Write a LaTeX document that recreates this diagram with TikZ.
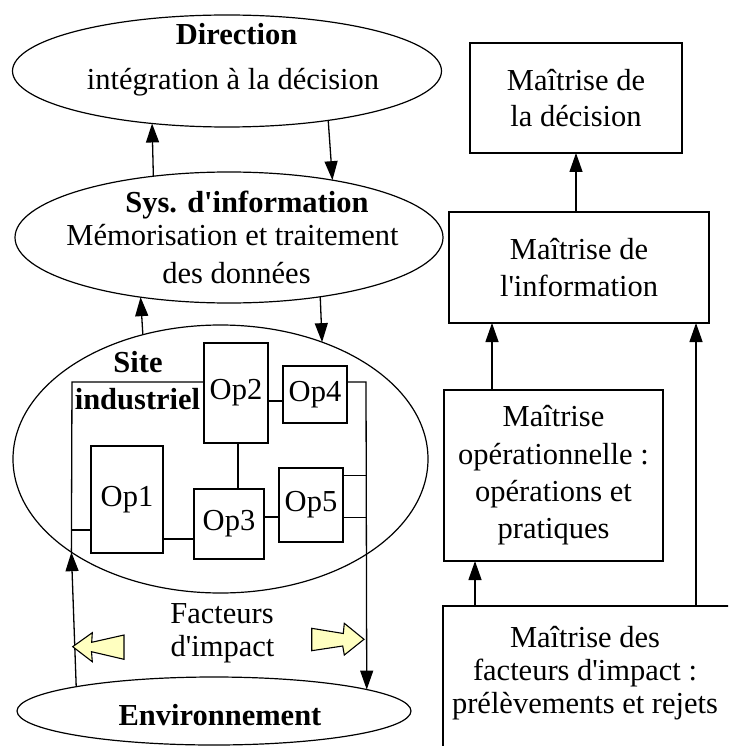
\documentclass[tikz,border=0pt]{standalone}
\usepackage{fontspec}
\setmainfont{Liberation Serif}[Ligatures=TeXOff]
\usetikzlibrary{arrows.meta,shapes.geometric}
\definecolor{pale}{RGB}{255,255,192}
\begin{document}
\begin{tikzpicture}[x=1pt,y=-1pt,
  every node/.style={font=\fontsize{30.5}{36}\selectfont},
  ell/.style={draw, ellipse, fill=white, inner sep=0pt, outer sep=0pt, line width=1.2pt},
  opbox/.style={draw, rectangle, inner sep=0pt, outer sep=0pt, line width=1.3pt, fill=white},
  mbox/.style={draw, rectangle, inner sep=0pt, outer sep=0pt, line width=1.3pt, align=center},
  lbl/.style={anchor=base, inner sep=0pt},
  arr/.style={line width=1.3pt, -{Triangle[length=19pt,width=13pt]}},
  ln/.style={line width=1.3pt},
  yarrow/.style={draw, line width=1.1pt, fill=pale, line join=miter}]
\useasboundingbox (0,0) rectangle (728,746);
\clip (0,0) rectangle (728,746);

% ellipses
\node[ell, minimum width=429pt, minimum height=112pt] (dir) at (227,71) {};
\node[lbl] (dirt) at (236.5,45) {\bfseries Direction};
\node[lbl] (dirs) at (233,90) {intégration à la décision};

\node[ell, minimum width=428pt, minimum height=131pt] (sys) at (229,237.5) {};
\node[lbl] (syst) at (247,212) {\bfseries Sys. d'information};
\node[lbl] (sys1) at (232.5,245) {Mémorisation et traitement};
\node[lbl] (sys2) at (236.5,283) {des données};

\node[ell, minimum width=415pt, minimum height=268pt] (site) at (220.5,459) {};
\node[lbl] (sitea) at (138,372) {\bfseries Site};
\node[lbl] (siteb) at (137.5,409) {\bfseries industriel};

\node[ell, minimum width=394pt, minimum height=68pt] (env) at (214,711) {};
\node[lbl] (envt) at (220,725) {\bfseries Environnement};

% arrows between ellipses
\draw[arr] (sys.141.14) -- (dir.215.38);
\draw[arr] (dir.334.5) -- (sys.29.76);
\draw[arr] (site.122.33) -- (sys.214.52);
\draw[arr] (sys.327.26) -- (site.49.39);

% frame of the site
\coordinate (ftl) at (72,382);
\coordinate (ftr) at (366,382);
\coordinate (stubone) at (72,530);
\coordinate (stubfa) at (366,475.7);
\coordinate (stubfb) at (366,517.3);

% operation boxes
\node[opbox, minimum width=64pt, minimum height=100pt] (op2) at (236,393) {Op2};
\node[opbox, minimum width=64pt, minimum height=57pt] (op4) at (315,394.5) {Op4};
\node[opbox, minimum width=72pt, minimum height=107pt] (op1) at (127,499.5) {Op1};
\node[opbox, minimum width=70pt, minimum height=70pt] (op3) at (229,524) {Op3};
\node[opbox, minimum width=64pt, minimum height=74pt] (op5) at (311,505) {Op5};

\draw[arr] (env.170.58) -- (site.212.22);
\draw[ln] (site.212.22) -- (ftl) -- (op2.west |- ftl);
\draw[ln] (stubone) -- (op1.west |- stubone);
\draw[arr] (op4.east |- ftr) -- (ftr) -- (env.8.10);
\draw[ln] (op5.east |- stubfa) -- (stubfa);
\draw[ln] (op5.east |- stubfb) -- (stubfb);

\draw[ln] (op2.east |- 0,401) -- (op4.west |- 0,401);
\draw[ln] (op2.south -| 238,0) -- (op3.north -| 238,0);
\draw[ln] (op1.east |- 0,539) -- (op3.west |- 0,539);
\draw[ln] (op3.east |- 0,517) -- (op5.west |- 0,517);

% impact factors
\node[lbl] (fac1) at (222,623) {Facteurs};
\node[lbl] (fac2) at (222.5,656) {d'impact};
\draw[yarrow] (72.7,646.7) -- (92.3,632.7) -- (91.7,642.3) -- (124,635) -- (124,659.3) -- (91.5,651.7) -- (92.3,661.7) -- cycle;
\draw[yarrow] (311.7,628.3) -- (343.3,633.5) -- (344.3,623.3) -- (364,639.3) -- (344.3,655) -- (342.7,646) -- (311.7,650.7) -- cycle;

% right column
\node[mbox, minimum width=212pt, minimum height=110pt] (rdec) at (576,98) {Maîtrise de\\la décision};
\node[mbox, minimum width=260pt, minimum height=111pt, font=\fontsize{30.5}{36.5}\selectfont] (rinf) at (579,267.5) {Maîtrise de\\l'information};
\node[mbox, minimum width=219pt, minimum height=171pt, font=\fontsize{30.5}{37.3}\selectfont] (rop) at (553.5,475.5) {Maîtrise\\opérationnelle :\\opérations et\\pratiques};
\node[mbox, minimum width=289pt, minimum height=146pt] (rfi) at (587.5,679) {};
\node[align=center, inner sep=0pt, font=\fontsize{30.5}{33}\selectfont] (rfit) at (585,673) {Maîtrise des\\facteurs d'impact :\\prélèvements et rejets};

\draw[arr] (rinf.north -| rdec.south) -- (rdec.south);
\draw[arr] (rop.north -| 492,0) -- (rinf.south -| 492,0);
\draw[arr] (rfi.north -| 696,0) -- (rinf.south -| 696,0);
\draw[arr] (rfi.north -| 475,0) -- (rop.south -| 475,0);
\end{tikzpicture}
\end{document}
